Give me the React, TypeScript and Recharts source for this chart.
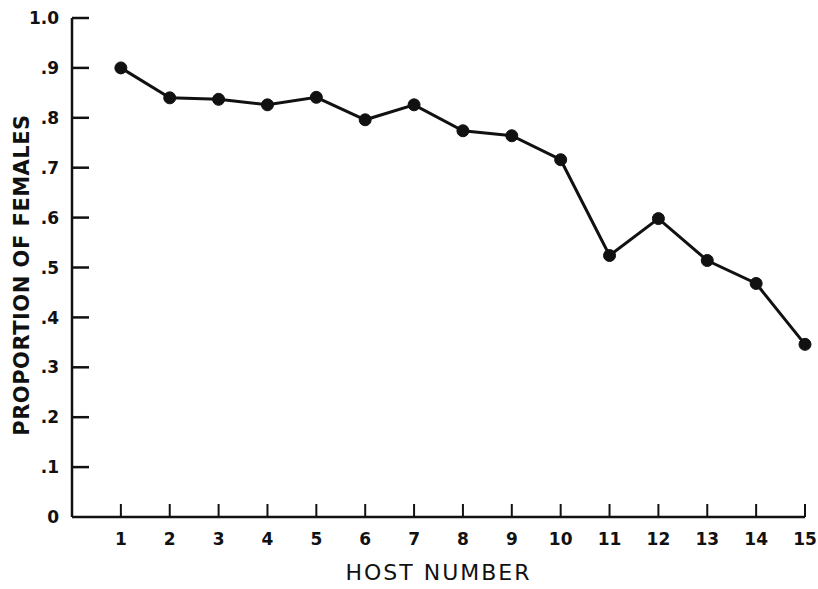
import { LineChart, Line, XAxis, YAxis, Label } from 'recharts';

// host number (x) and proportion of females (y)
const hosts = [1, 2, 3, 4, 5, 6, 7, 8, 9, 10, 11, 12, 13, 14, 15];
const femaleProportion = [0.9, 0.84, 0.837, 0.826, 0.841, 0.796, 0.826, 0.774, 0.764, 0.716, 0.524, 0.598, 0.514, 0.468, 0.346];
const yTicks = [0, 0.1, 0.2, 0.3, 0.4, 0.5, 0.6, 0.7, 0.8, 0.9, 1.0];

const INK = '#111';
const FONT = '"DejaVu Sans", "Liberation Sans", sans-serif';

const data = hosts.map((host, i) => ({ host, value: femaleProportion[i] }));

const formatY = (v: number) => (v === 0 ? '0' : v === 1 ? '1.0' : '.' + Math.round(v * 10));

const Y_MARGIN = 13;
const X_MARGIN = 14;

const YTick = (props: any) => {
  const { x, y, payload } = props;
  const axisX = x + Y_MARGIN;
  return (
    <g>
      {payload.value !== 0 && (
        <line x1={axisX} x2={axisX + 17} y1={y} y2={y} stroke={INK} strokeWidth={2.5} />
      )}
      <text x={x} y={y} dy="0.36em" textAnchor="end" fontFamily={FONT} fontWeight="bold" fontSize={17} fill={INK}>
        {formatY(payload.value)}
      </text>
    </g>
  );
};

const XTick = (props: any) => {
  const { x, y, payload } = props;
  const axisY = y - X_MARGIN;
  return (
    <g>
      <line x1={x} x2={x} y1={axisY} y2={axisY - 13} stroke={INK} strokeWidth={2} />
      <text x={x} y={axisY + 28} textAnchor="middle" fontFamily={FONT} fontWeight="bold" fontSize={17} fill={INK}>
        {payload.value}
      </text>
    </g>
  );
};

const YTitle = () => (
  <text
    x={22}
    y={275}
    transform="rotate(-90 22 275)"
    textAnchor="middle"
    dominantBaseline="central"
    fontFamily={FONT}
    fontWeight="bold"
    fontSize={21}
    letterSpacing={0.5}
    fill={INK}
  >
    PROPORTION OF FEMALES
  </text>
);

const App = () => (
  <div style={{ position: 'absolute', left: 0, top: 0, background: '#fff' }}>
    <LineChart width={818} height={589} data={data} margin={{ top: 18, right: 13, bottom: 0, left: 0 }}>
      <XAxis
        dataKey="host"
        type="number"
        domain={[0, 15]}
        ticks={hosts}
        interval={0}
        height={72}
        tickSize={0}
        tickMargin={X_MARGIN}
        tick={<XTick />}
        axisLine={{ stroke: INK, strokeWidth: 2.5 }}
      >
        <Label
          value="HOST NUMBER"
          position="insideBottom"
          offset={9}
          style={{ fontFamily: FONT, fontSize: 22, letterSpacing: 2, fill: INK }}
        />
      </XAxis>
      <YAxis
        type="number"
        domain={[0, 1]}
        ticks={yTicks}
        interval={0}
        width={72}
        tickSize={0}
        tickMargin={Y_MARGIN}
        tick={<YTick />}
        axisLine={{ stroke: INK, strokeWidth: 2.5 }}
      >
        <Label content={<YTitle />} />
      </YAxis>
      <Line
        type="linear"
        dataKey="value"
        stroke={INK}
        strokeWidth={3}
        dot={{ r: 6, fill: INK, stroke: INK, strokeWidth: 1 }}
        isAnimationActive={false}
      />
    </LineChart>
  </div>
);

export default App;
